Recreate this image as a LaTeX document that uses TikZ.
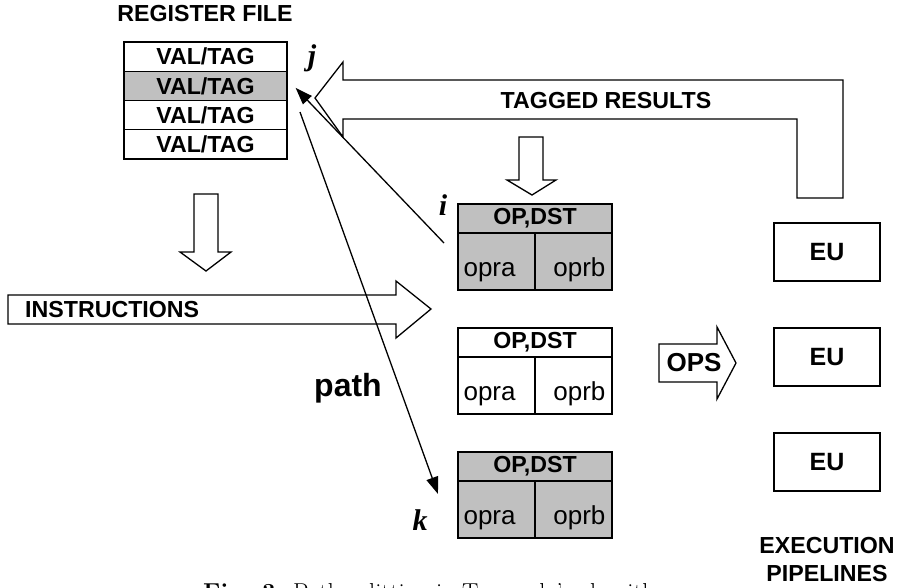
\documentclass[tikz,border=0pt]{standalone}
\usepackage{fontspec}
\newfontfamily\arial{Liberation Sans}
\newfontfamily\tnr{Liberation Serif}
\usetikzlibrary{arrows.meta}
\definecolor{cellgray}{RGB}{192,192,192}
\tikzset{
  box/.style={draw, line width=1.3pt, inner sep=0pt},
  blk/.style={draw, line width=1.3pt, fill=white, line join=miter},
  lbl/.style={font=\arial\bfseries\fontsize{23.2}{28}\selectfont, inner sep=0pt},
  opr/.style={font=\arial\fontsize{26}{30}\selectfont, inner sep=0pt},
  idx/.style={font=\tnr\bfseries\itshape\fontsize{30}{34}\selectfont, inner sep=0pt, anchor=base},
  ptr/.style={line width=1.3pt, -{Triangle[length=17pt,width=12pt]}},
}
\begin{document}
\begin{tikzpicture}[x=1pt,y=-1pt]
\fill[white] (0,0) rectangle (902,587);
\useasboundingbox (0,0) rectangle (902,587);

% register file
\node[lbl] (rftitle) at (205,13.5) {REGISTER FILE};
\node[box, lbl, minimum width=163pt, minimum height=29.25pt] (reg1) at (205.5,56.6) {VAL/TAG};
\node[box, lbl, fill=cellgray, minimum width=163pt, minimum height=29.25pt] (reg2) at (205.5,85.9) {VAL/TAG};
\node[box, lbl, minimum width=163pt, minimum height=29.25pt] (reg3) at (205.5,115.1) {VAL/TAG};
\node[box, lbl, minimum width=163pt, minimum height=29.25pt] (reg4) at (205.5,144.4) {VAL/TAG};
\node[idx] (jlab) at (312,65) {j};

% tagged results block arrow
\draw[blk] (843,198) -- (843,80) -- (343,80) -- (343,62) -- (315,98) -- (343,137)
  -- (343,119) -- (797,119) -- (797,198) -- cycle;
\node[lbl] (tagged) at (606,101) {TAGGED RESULTS};

% small down arrow into station 1
\draw[blk] (519,137) -- (543,137) -- (543,180) -- (556,180) -- (532,195) -- (507,180) -- (519,180) -- cycle;

% down arrow below register file
\draw[blk] (194,194) -- (218,194) -- (218,252) -- (231,252) -- (206,271) -- (180,252) -- (194,252) -- cycle;

% instructions arrow
\draw[blk] (8,295) -- (396,295) -- (396,281) -- (431,309) -- (396,338) -- (396,324) -- (8,324) -- cycle;
\node[lbl, anchor=west] (instr) at (25,309.5) {INSTRUCTIONS};

% reservation stations
\foreach \n/\t/\f in {s1/204/cellgray, s2/328/white, s3/452/cellgray}{
  \node[box, lbl, fill=\f, minimum width=154pt, minimum height=29pt] (\n-h) at (535,{\t+14.5}) {OP,DST};
  \node[box, fill=\f, minimum width=77pt, minimum height=57pt] (\n-a) at (496.5,{\t+57.5}) {};
  \node[box, fill=\f, minimum width=77pt, minimum height=57pt] (\n-b) at (573.5,{\t+57.5}) {};
  \node[opr, anchor=base west] (\n-at) at ([xshift=6pt,yshift=14pt]\n-a.south west) {opra};
  \node[opr, anchor=base east] (\n-bt) at ([xshift=-7pt,yshift=14pt]\n-b.south east) {oprb};
}
\node[idx] (ilab) at (443,215) {i};
\node[idx] (klab) at (420,530) {k};

% OPS arrow
\draw[blk] (659,344) -- (717,344) -- (717,327) -- (736,363) -- (717,399) -- (717,382) -- (659,382) -- cycle;
\node[lbl, font=\arial\bfseries\fontsize{26}{30}\selectfont] (ops) at (694,363) {OPS};

% execution units
\node[box, font=\arial\bfseries\fontsize{25}{30}\selectfont, minimum width=106pt, minimum height=58pt] (eu1) at (827,252) {EU};
\node[box, font=\arial\bfseries\fontsize{25}{30}\selectfont, minimum width=106pt, minimum height=58pt] (eu2) at (827,357) {EU};
\node[box, font=\arial\bfseries\fontsize{25}{30}\selectfont, minimum width=106pt, minimum height=58pt] (eu3) at (827,462) {EU};
\node[lbl, anchor=base] (exec) at (827,553) {EXECUTION};
\node[lbl, anchor=base] (pipe) at (827,581) {PIPELINES};

% path label
\node[font=\arial\bfseries\fontsize{32}{38}\selectfont, inner sep=0pt] (pathlab) at (348,388) {path};

% pointers
\coordinate (istart) at (444,243);
\coordinate (jtip) at ([xshift=8pt,yshift=-2pt]reg2.east);
\coordinate (kstart) at (300,112);
\coordinate (ktip) at (438,494);
\draw[ptr] (istart) -- (jtip);
\draw[ptr] (kstart) -- (ktip);

% caption (cut off at the bottom, as in the reference)
\node[anchor=base west, inner sep=0pt, font=\fontsize{24.5}{29}\selectfont] (cap) at (203,600)
  {\textbf{Fig. 3.} Path splitting in Tomasulo's algorithm};
\end{tikzpicture}
\end{document}
